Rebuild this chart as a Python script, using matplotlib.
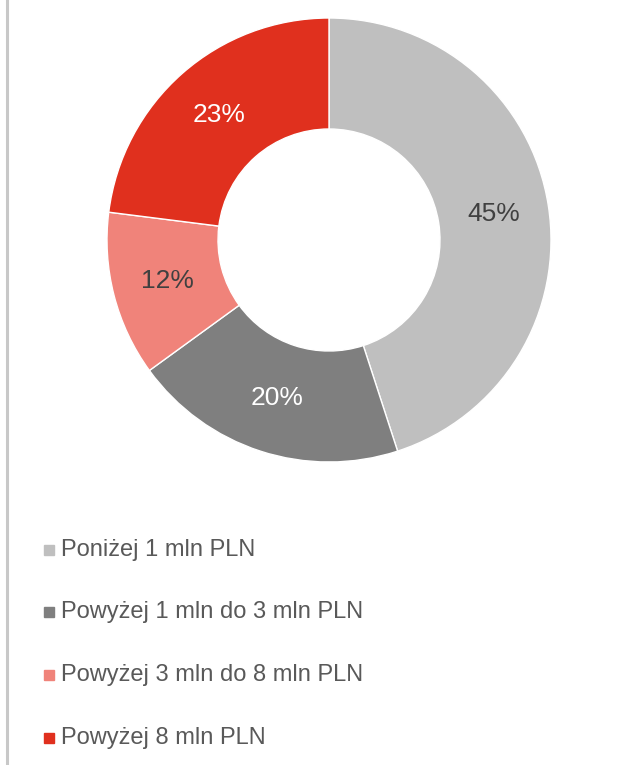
import matplotlib.pyplot as plt
from matplotlib.patches import Rectangle

# Share of clients by size bracket
categories = ['Poniżej 1 mln PLN', 'Powyżej 1 mln do 3 mln PLN',
              'Powyżej 3 mln do 8 mln PLN', 'Powyżej 8 mln PLN']
shares = [45, 20, 12, 23]
colors = ['#BFBFBF', '#7F7F7F', '#F0837A', '#E0301E']
label_colors = ['#404040', 'white', '#404040', 'white']

plt.rcParams['font.family'] = ['Liberation Sans', 'DejaVu Sans']

fig = plt.figure(figsize=(6.4, 7.65), dpi=100)

# thin grey rule along the left edge
fig.add_artist(plt.Line2D([6.5 / 640, 6.5 / 640], [0, 1], color='#C8C8C8', lw=2.2,
                          transform=fig.transFigure))

ax = fig.add_axes([107 / 640, 303 / 765, 444 / 640, 444 / 765])
wedges, texts = ax.pie(shares, colors=colors, startangle=90, counterclock=False,
                       wedgeprops=dict(width=0.5, edgecolor='white', linewidth=1),
                       labels=[f'{s}%' for s in shares], labeldistance=0.75,
                       textprops=dict(fontsize=19))
for t, c in zip(texts, label_colors):
    t.set_color(c)
    t.set_ha('center')
    t.set_va('center')
ax.set_aspect('equal')
ax.set_xlim(-1, 1)
ax.set_ylim(-1, 1)

# legend: square marker + text, one row each
rows_y = [550, 612, 675, 738]
for name, col, y in zip(categories, colors, rows_y):
    fy = 1 - y / 765
    fig.add_artist(Rectangle((44 / 640, fy - 5 / 765), 10 / 640, 10 / 765,
                             color=col, transform=fig.transFigure))
    fig.text(61 / 640, fy, name, color='#595959', fontsize=17, va='center', ha='left')

fig.savefig('out.png', dpi=100, facecolor='white')
